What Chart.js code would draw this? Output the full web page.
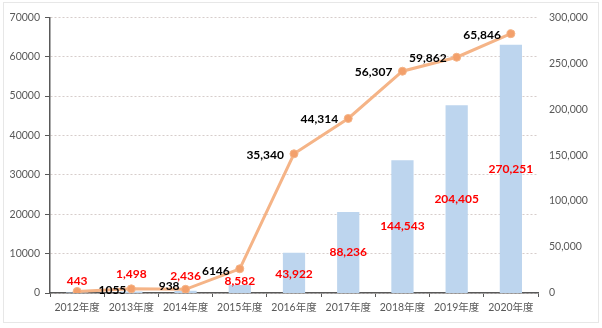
<!DOCTYPE html>
<html>
<head>
<meta charset="utf-8">
<script src="https://cdn.jsdelivr.net/npm/chart.js@4.4.1/dist/chart.umd.min.js"></script>
<style>
  html, body { margin: 0; padding: 0; background: #ffffff; }
  #wrap { width: 602px; height: 328px; }
</style>
</head>
<body>
<div id="wrap"><canvas id="c" width="602" height="328"></canvas></div>
<script>
// Fiscal years on the category axis
const years = ['2012年度', '2013年度', '2014年度', '2015年度', '2016年度', '2017年度', '2018年度', '2019年度', '2020年度'];
// Cumulative total (bars, right axis, red labels)
const cumulative = [443, 1498, 2436, 8582, 43922, 88236, 144543, 204405, 270251];
// Yearly count (line, left axis, black labels; first year unlabeled)
const yearly = [400, 1055, 938, 6146, 35340, 44314, 56307, 59862, 65846];
// Axis ranges
const leftAxis = { min: 0, max: 70000, step: 10000 };
const rightAxis = { min: 0, max: 300000, step: 50000 };

const LABEL_FONT = "bold 12px Lato, 'Noto Sans CJK JP', sans-serif";
const TICK_FAMILY = "Lato, 'Noto Sans CJK JP', sans-serif";
const AXIS_GRAY = '#595959';

const withCommas = v => v.toLocaleString('en-US');

// White background and dotted outer frame
const frame = {
  id: 'frame',
  beforeDraw(chart) {
    const ctx = chart.ctx;
    ctx.save();
    ctx.fillStyle = '#ffffff';
    ctx.fillRect(0, 0, chart.width, chart.height);
    ctx.strokeStyle = '#cfcfcf';
    ctx.lineWidth = 1;
    ctx.setLineDash([1, 1]);
    ctx.strokeRect(3.5, 2.5, chart.width - 7, chart.height - 8);
    ctx.restore();
  }
};

// Value labels: red in the middle of each bar, black to the left of each point
const valueLabels = {
  id: 'valueLabels',
  afterDatasetsDraw(chart, args, opts) {
    const ctx = chart.ctx;
    ctx.save();
    ctx.font = LABEL_FONT;
    ctx.textBaseline = 'middle';

    const bars = chart.getDatasetMeta(1).data;
    ctx.fillStyle = '#ff0000';
    ctx.textAlign = 'center';
    bars.forEach((el, i) => {
      const mid = (el.y + el.base) / 2;
      const y = Math.min(mid, el.base - 12) + (opts.barLift[i] || 0);
      ctx.fillText(withCommas(cumulative[i]), el.x, y);
    });

    const pts = chart.getDatasetMeta(0).data;
    ctx.fillStyle = '#000000';
    ctx.textAlign = 'right';
    pts.forEach((el, i) => {
      if (i === 0) return;
      const v = yearly[i];
      const text = v >= 10000 ? withCommas(v) : String(v);
      const gap = opts.pointGap[i] != null ? opts.pointGap[i] : 10;
      ctx.fillText(text, el.x - gap, el.y + 1 + (opts.pointLift[i] || 0));
    });
    ctx.restore();
  }
};

new Chart(document.getElementById('c'), {
  data: {
    labels: years,
    datasets: [
      {
        type: 'line',
        data: yearly,
        yAxisID: 'y',
        order: 0,
        borderColor: '#F5B487',
        borderWidth: 3,
        tension: 0,
        pointRadius: 4,
        pointBackgroundColor: '#F3A06B',
        pointBorderColor: '#F5B487',
        pointBorderWidth: 1
      },
      {
        type: 'bar',
        data: cumulative,
        yAxisID: 'y1',
        order: 1,
        backgroundColor: '#BDD5EE',
        borderWidth: 0,
        barPercentage: 0.41,
        categoryPercentage: 1
      }
    ]
  },
  options: {
    responsive: false,
    animation: false,
    layout: { padding: { top: 16, left: 0, right: 0, bottom: 0 } },
    plugins: {
      legend: { display: false },
      tooltip: { enabled: false },
      valueLabels: {
        barLift: [0, -7, -4.5, 0, 1, 0, 0, 0, 0],
        pointGap: [null, 5, 6, null, null, null, null, null, null],
        pointLift: [0, 0, -4, 1, 0, 0, 0, 0, 0]
      }
    },
    scales: {
      x: {
        offset: true,
        grid: {
          offset: true,
          drawOnChartArea: false,
          drawTicks: true,
          tickLength: 4,
          tickColor: AXIS_GRAY,
          tickWidth: 1
        },
        border: { display: true, color: AXIS_GRAY, width: 1.5 },
        ticks: {
          color: AXIS_GRAY,
          padding: 4,
          maxRotation: 0,
          autoSkip: false,
          font: { family: TICK_FAMILY, size: 10.5 }
        },
        afterFit(scale) { scale.height = 35; }
      },
      y: {
        position: 'left',
        min: leftAxis.min,
        max: leftAxis.max,
        grid: {
          color: '#d6cdcb',
          lineWidth: 1,
          drawTicks: true,
          tickLength: 5,
          tickColor: AXIS_GRAY,
          tickBorderDash: []
        },
        border: { display: true, color: AXIS_GRAY, width: 1.5, dash: [2, 2] },
        ticks: {
          stepSize: leftAxis.step,
          color: AXIS_GRAY,
          padding: 5,
          font: { family: TICK_FAMILY, size: 10.5 },
          callback: v => String(v)
        },
        afterFit(scale) { scale.width = 50; }
      },
      y1: {
        position: 'right',
        min: rightAxis.min,
        max: rightAxis.max,
        grid: { display: false, drawOnChartArea: false, drawTicks: false },
        border: { display: false },
        ticks: {
          stepSize: rightAxis.step,
          color: AXIS_GRAY,
          padding: 11,
          font: { family: TICK_FAMILY, size: 10.5 },
          callback: v => withCommas(v)
        },
        afterFit(scale) { scale.width = 64; }
      }
    }
  },
  plugins: [frame, valueLabels]
});
</script>
</body>
</html>
